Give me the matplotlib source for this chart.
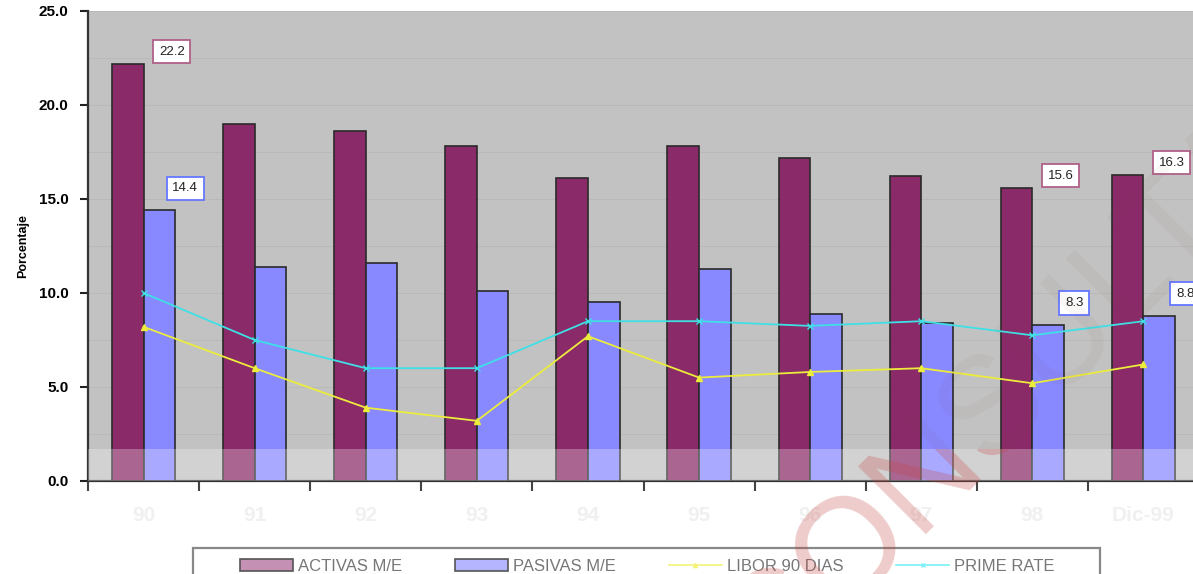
import numpy as np
import matplotlib
matplotlib.use("Agg")
import matplotlib.pyplot as plt
from matplotlib.patches import Patch, Rectangle
from matplotlib.lines import Line2D
from matplotlib.ticker import FixedLocator, MultipleLocator, FormatStrFormatter

plt.rcParams["font.family"] = ["Liberation Sans", "DejaVu Sans"]

# Tasas de interes en moneda extranjera (%)
years = ["90", "91", "92", "93", "94", "95", "96", "97", "98", "Dic-99"]
activas = [22.2, 19.0, 18.6, 17.8, 16.1, 17.8, 17.2, 16.2, 15.6, 16.3]
pasivas = [14.4, 11.4, 11.6, 10.1, 9.5, 11.3, 8.9, 8.4, 8.3, 8.8]
libor = [8.2, 6.0, 3.9, 3.2, 7.7, 5.5, 5.8, 6.0, 5.2, 6.2]
prime = [10.0, 7.5, 6.0, 6.0, 8.5, 8.5, 8.25, 8.5, 7.75, 8.5]
labeled = [0, 8, 9]

C_ACT = "#8a2a68"
C_PAS = "#8888ff"
C_LIB = "#ecec3c"
C_PRI = "#3ee0e6"

W, H = 1193, 574
fig = plt.figure(figsize=(W / 100, H / 100), dpi=100, facecolor="white")
ax = fig.add_axes([88 / W, 93 / H, 1111 / W, 470 / H])
ax.set_facecolor("#c2c2c2")

x = np.arange(len(years))
bw = 0.284
ax.bar(x - bw / 2, activas, bw, color=C_ACT, edgecolor="#2a2a2a", lw=1.2, zorder=3)
ax.bar(x + bw / 2, pasivas, bw, color=C_PAS, edgecolor="#2a2a2a", lw=1.2, zorder=3)
ax.plot(x, libor, color=C_LIB, lw=1.3, marker="^", ms=4, zorder=4)
ax.plot(x, prime, color=C_PRI, lw=1.3, marker="x", ms=4, mew=1, zorder=4)

# etiquetas de valor
for i in labeled:
    ax.annotate(f"{activas[i]:.1f}", (x[i] - bw / 2, activas[i]),
                xytext=(44, 12), textcoords="offset pixels", ha="center", va="center",
                fontsize=9.5, color="#222222", zorder=6,
                bbox=dict(boxstyle="square,pad=0.42", fc="white", ec="#b06088", lw=1.3))
    ax.annotate(f"{pasivas[i]:.1f}", (x[i] + bw / 2, pasivas[i]),
                xytext=(26, 22), textcoords="offset pixels", ha="center", va="center",
                fontsize=9.5, color="#222222", zorder=6,
                bbox=dict(boxstyle="square,pad=0.42", fc="white", ec="#6677ff", lw=1.3))

# franja clara en la base
ax.axhspan(0, 1.7, color="white", alpha=0.28, lw=0, zorder=5)

ax.set_xlim(-0.5, len(years) - 0.5)
ax.set_ylim(0, 25)
ax.yaxis.set_major_locator(MultipleLocator(5))
ax.yaxis.set_minor_locator(MultipleLocator(2.5))
ax.yaxis.set_major_formatter(FormatStrFormatter("%.1f"))
ax.grid(axis="y", which="both", color="#b8b8b8", lw=0.6, zorder=0)

ax.xaxis.set_major_locator(FixedLocator(np.arange(len(years) + 1) - 0.5))
ax.xaxis.set_minor_locator(FixedLocator(x))
ax.set_xticklabels([], minor=False)
ax.set_xticklabels(years, minor=True)
ax.tick_params(axis="x", which="major", direction="out", length=7, width=1.5, color="#444444")
ax.tick_params(axis="x", which="minor", length=0, pad=18, labelsize=15,
               labelcolor="#f0f0f0")
for t in ax.get_xticklabels(minor=True):
    t.set_fontweight("bold")
ax.tick_params(axis="y", which="major", direction="out", length=6, width=1.5,
               color="#222222", labelsize=11, pad=8)
ax.tick_params(axis="y", which="minor", length=0)
for t in ax.get_yticklabels():
    t.set_fontweight("bold")

for s in ["top", "right"]:
    ax.spines[s].set_visible(False)
for s in ["left", "bottom"]:
    ax.spines[s].set_color("#333333")
    ax.spines[s].set_linewidth(1.6)

ax.set_ylabel("Porcentaje", fontsize=9, fontweight="bold", labelpad=7)

# leyenda
handles = [
    Patch(facecolor="#c490b4", edgecolor="#555555", lw=1.2),
    Patch(facecolor="#b4b4ff", edgecolor="#555555", lw=1.2),
    Line2D([], [], color="#f4f47a", lw=1.2, marker="^", ms=3),
    Line2D([], [], color="#7af0f4", lw=1.2, marker="x", ms=3),
]
names = ["ACTIVAS M/E", "PASIVAS M/E", "LIBOR 90 DIAS", "PRIME RATE"]
fig.legend(handles, names, loc="upper left", ncol=4, frameon=False,
           bbox_to_anchor=(240 / W, (H - 559) / H), borderaxespad=0, borderpad=0,
           fontsize=12, labelcolor="#777777", handlelength=3.2, handleheight=0.75,
           handletextpad=0.3, columnspacing=3.15)
fig.add_artist(Rectangle((193 / W, -0.1), 907 / W, 0.1 + (H - 548) / H,
                         transform=fig.transFigure, fill=False,
                         ec="#888888", lw=1.6))

# marca de agua
wm_pos = (769 / W, (H - 684) / H)
clip = Rectangle((0, 0), 1, (H - 449) / H, transform=fig.transFigure)
wm = fig.text(*wm_pos, "CONSULTA", fontsize=100, rotation=45, rotation_mode="anchor",
              ha="left", va="baseline", color="#d84848", alpha=0.24, zorder=10)
wm.set_clip_path(clip)
fig.text(*wm_pos, "CONSULTA", fontsize=100, rotation=45, rotation_mode="anchor",
         ha="left", va="baseline", color="#804040", alpha=0.05, zorder=10)

fig.savefig("out.png", dpi=100)
